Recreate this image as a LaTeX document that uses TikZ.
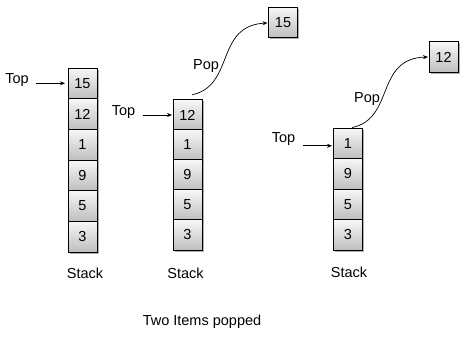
\documentclass[tikz,border=0pt]{standalone}
\usepackage{fontspec}
\setmainfont{Liberation Sans}
\usetikzlibrary{arrows.meta,shadows,calc}
\definecolor{cellbot}{HTML}{BEBEBE}
\definecolor{celltop}{HTML}{F7F7F7}
\tikzset{
  cell/.style={draw=black, line width=0.7pt, top color=celltop, bottom color=cellbot,
    minimum width=29pt, minimum height=30.5pt, inner sep=0pt, outer sep=0pt,
    drop shadow={shadow xshift=1.6pt, shadow yshift=-1.6pt, opacity=0.45, fill=black!70},
    font=\fontsize{14.5}{17}\selectfont},
  lbl/.style={inner sep=0pt, font=\fontsize{14.5}{17}\selectfont},
  ptr/.style={draw=black, line width=0.7pt, -{Stealth[length=5pt,width=4pt]}},
}
\begin{document}
\begin{tikzpicture}[x=1pt,y=-1pt]
\useasboundingbox (0,0) rectangle (466,337);
% stack 1
\node[cell] (a1) at (82.5,83.3) {15};
\node[cell] (a2) at (82.5,114) {12};
\node[cell] (a3) at (82.5,144.7) {1};
\node[cell] (a4) at (82.5,175.3) {9};
\node[cell] (a5) at (82.5,206) {5};
\node[cell] (a6) at (82.5,236.7) {3};
% stack 2
\node[cell] (b1) at (187.5,115) {12};
\node[cell] (b2) at (187.5,145) {1};
\node[cell] (b3) at (187.5,175) {9};
\node[cell] (b4) at (187.5,205) {5};
\node[cell] (b5) at (187.5,235) {3};
% popped 15
\node[cell] (p15) at (283,22.5) {15};
% stack 3
\node[cell] (c1) at (348,143.3) {1};
\node[cell] (c2) at (348,173.8) {9};
\node[cell] (c3) at (348,204.3) {5};
\node[cell] (c4) at (348,234.8) {3};
% popped 12
\node[cell] (p12) at (443.5,57) {12};
% Top labels
\node[lbl] (t1) at (17,80) {Top};
\node[lbl] (t2) at (123.5,112) {Top};
\node[lbl] (t3) at (283.5,139) {Top};
\draw[ptr] ($(t1.east |- a1.west)+(7,0)$) -- ($(a1.west)+(-3,0)$);
\draw[ptr] ($(t2.east |- b1.west)+(8,0)$) -- ($(b1.west)+(-1,0)$);
\draw[ptr] ($(t3.east |- c1.west)+(8,2.5)$) -- ($(c1.west)+(-1.5,2.5)$);
% Pop curves
\coordinate (s2) at ($(b1.north)+(4.5,-5)$);
\coordinate (s3) at ($(c1.north)+(4,-0.5)$);
\draw[ptr] (s2) .. controls ($(s2)+(43,-9)$) and ($(s2)+(23,-69)$) .. ($(p15.west)+(-1,0.5)$);
\draw[ptr] (s3) .. controls ($(s3)+(43,-9)$) and ($(s3)+(23,-69)$) .. ($(p12.west)+(-1,0)$);
\node[lbl] (pop2) at (206,66) {Pop};
\node[lbl] (pop3) at (367,99) {Pop};
% captions
\node[lbl] (st1) at (85,273) {Stack};
\node[lbl] (st2) at (185.5,273) {Stack};
\node[lbl] (st3) at (349,272) {Stack};
\node[lbl] (cap) at (202,322) {Two Items popped};
\end{tikzpicture}
\end{document}
